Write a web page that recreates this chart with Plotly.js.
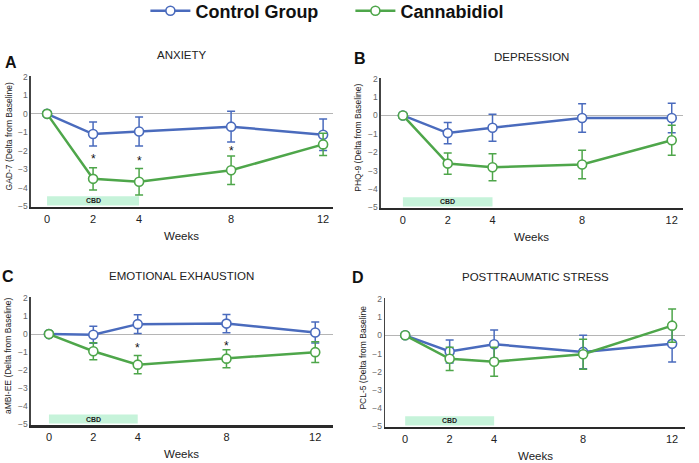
<!DOCTYPE html>
<html>
<head>
<meta charset="utf-8">
<script src="https://cdn.plot.ly/plotly-3.0.1.min.js"></script>
<style>
  html, body { margin: 0; padding: 0; background: #fff; }
  #chart { width: 699px; height: 463px; }
</style>
</head>
<body>
<div id="chart"></div>
<script>
// weeks of follow-up
const weeks = [0, 2, 4, 8, 12];

// A - anxiety (GAD-7)
const anxietyControl = [0, -1.09, -0.95, -0.69, -1.13];
const anxietyControlErr = [0, 0.65, 0.78, 0.83, 0.85];
const anxietyCbd = [0, -3.51, -3.67, -3.05, -1.65];
const anxietyCbdErr = [0, 0.6, 0.72, 0.77, 0.6];
const anxietyStarWeeks = [2, 4, 8];
const anxietyStarY = [-2.27, -2.36, -1.87];

// B - depression (PHQ-9)
const depressionControl = [0, -0.96, -0.67, -0.14, -0.14];
const depressionControlErr = [0, 0.58, 0.74, 0.78, 0.8];
const depressionCbd = [0, -2.62, -2.82, -2.67, -1.35];
const depressionCbdErr = [0, 0.58, 0.73, 0.77, 0.81];

// C - emotional exhaustion (aMBI-EE)
const exhaustionControl = [0, -0.04, 0.55, 0.58, 0.09];
const exhaustionControlErr = [0, 0.47, 0.52, 0.5, 0.58];
const exhaustionCbd = [0, -0.95, -1.69, -1.36, -1.0];
const exhaustionCbdErr = [0, 0.47, 0.5, 0.5, 0.57];
const exhaustionStarWeeks = [4, 8];
const exhaustionStarY = [-0.58, -0.51];

// D - posttraumatic stress (PCL-5)
const ptsdControl = [0, -0.89, -0.49, -0.91, -0.47];
const ptsdControlErr = [0, 0.63, 0.78, 0.92, 1.0];
const ptsdCbd = [0, -1.29, -1.45, -1.04, 0.53];
const ptsdCbdErr = [0, 0.64, 0.8, 0.83, 0.91];

const yTicks = [-5, -4, -3, -2, -1, 0, 1, 2];
const cbdWeeks = [0, 4];
const cbdBand = [-4.95, -4.45];

const colors = {control: '#4a6bbd', cbd: '#4ea64a', cbdBar: '#c6f3da', axis: '#2a2a2a'};

//panel setup
let panels = [
  {letter: 'A', title: 'ANXIETY', ytitle: 'GAD-7 (Delta from Baseline)', control: anxietyControl, controlErr: anxietyControlErr, cbd: anxietyCbd, cbdErr: anxietyCbdErr, starX: anxietyStarWeeks, starY: anxietyStarY,
   xdom: [0.0443, 0.4764], ydom: [0.553, 0.836], xrange: [-0.7, 12.43], letterPos: [0.004, 0.866]},
  {letter: 'B', title: 'DEPRESSION', ytitle: 'PHQ-9 (Delta from Baseline)', control: depressionControl, controlErr: depressionControlErr, cbd: depressionCbd, cbdErr: depressionCbdErr, starX: [], starY: [],
   xdom: [0.545, 0.977], ydom: [0.551, 0.832], xrange: [-0.98, 12.5], letterPos: [0.503, 0.873]},
  {letter: 'C', title: 'EMOTIONAL EXHAUSTION', ytitle: 'aMBI-EE (Delta from Baseline)', control: exhaustionControl, controlErr: exhaustionControlErr, cbd: exhaustionCbd, cbdErr: exhaustionCbdErr, starX: exhaustionStarWeeks, starY: exhaustionStarY,
   xdom: [0.0443, 0.4764], ydom: [0.082, 0.3585], xrange: [-0.81, 12.8], letterPos: [0.0, 0.402]},
  {letter: 'D', title: 'POSTTRAUMATIC STRESS', ytitle: 'PCL-5 (Delta from Baseline', control: ptsdControl, controlErr: ptsdControlErr, cbd: ptsdCbd, cbdErr: ptsdCbdErr, starX: [], starY: [],
   xdom: [0.551, 0.980], ydom: [0.078, 0.3564], xrange: [-0.9, 12.58], letterPos: [0.501, 0.400]}
];

let data = [];
let layout = {
  width: 699,
  height: 463,
  margin: {l: 0, r: 0, t: 0, b: 0, autoexpand: false},
  paper_bgcolor: '#fff',
  plot_bgcolor: 'rgba(0,0,0,0)',
  font: {family: 'Liberation Sans, Arial, sans-serif', color: '#222'},
  showlegend: true,
  legend: {
    orientation: 'h', x: 0.208, xanchor: 'left', y: 1.016, yanchor: 'top',
    font: {size: 18, color: '#111', weight: 'bold'},
    itemwidth: 40, entrywidth: 150
  },
  shapes: [],
  annotations: []
};

function lineTrace(name, y, err, color, xa, ya, show) {
  return {
    x: weeks, y: y, name: name, xaxis: xa, yaxis: ya,
    mode: 'lines+markers', showlegend: show,
    line: {color: color, width: 2.5},
    marker: {symbol: 'circle', size: 9, color: '#fff', line: {color: color, width: 1.6}},
    error_y: {type: 'data', array: err, visible: true, color: color, thickness: 1.5, width: 4}
  };
}

function note(text, x, y, font, extra) {
  return Object.assign({xref: 'paper', yref: 'paper', x: x, y: y, text: text, showarrow: false,
    xanchor: 'center', yanchor: 'middle', font: font}, extra || {});
}

panels.forEach(function (p, i) {
  let n = i === 0 ? '' : String(i + 1);
  let xa = 'x' + n, ya = 'y' + n;

  data.push(lineTrace('Control Group', p.control, p.controlErr, colors.control, xa, ya, i === 0));
  data.push(lineTrace('Cannabidiol', p.cbd, p.cbdErr, colors.cbd, xa, ya, i === 0));

  //significance stars
  p.starX.forEach(function (wk, k) {
    layout.annotations.push({xref: xa, yref: ya, x: wk, y: p.starY[k], text: '*', showarrow: false,
      xanchor: 'center', yanchor: 'middle', yshift: -3, font: {size: 12, color: '#111'}});
  });

  layout['xaxis' + n] = {
    domain: p.xdom, anchor: ya, range: p.xrange,
    tickvals: weeks, ticktext: weeks.map(String),
    showgrid: false, zeroline: false, showline: true,
    linecolor: colors.axis, linewidth: 2.5, ticks: '',
    tickfont: {size: 11, color: '#222'}
  };
  layout['yaxis' + n] = {
    domain: p.ydom, anchor: xa, range: [-5.03, 2.05],
    tickvals: yTicks, showgrid: false,
    zeroline: true, zerolinecolor: '#b5b5b5', zerolinewidth: 1,
    showline: true, linecolor: '#444', linewidth: 1.5, ticks: '',
    tickfont: {size: 8.5, color: '#666'}
  };

  //CBD treatment window
  layout.shapes.push({type: 'rect', xref: xa, yref: ya, x0: cbdWeeks[0], x1: cbdWeeks[1], y0: cbdBand[0], y1: cbdBand[1],
    fillcolor: colors.cbdBar, line: {width: 0}, layer: 'below'});
  layout.annotations.push({xref: xa, yref: ya, x: (cbdWeeks[0] + cbdWeeks[1]) / 2, y: (cbdBand[0] + cbdBand[1]) / 2,
    text: '<b>CBD</b>', showarrow: false, xanchor: 'center', yanchor: 'middle', font: {size: 7, color: '#222'}});

  let xmid = (p.xdom[0] + p.xdom[1]) / 2;
  layout.annotations.push(note(p.title, xmid, p.ydom[1] + 0.045, {size: 11.5, color: '#222'}));
  layout.annotations.push(note('<b>' + p.letter + '</b>', p.letterPos[0], p.letterPos[1], {size: 16, color: '#111'}, {xanchor: 'left'}));
  layout.annotations.push(note(p.ytitle, p.xdom[0] - 0.032, (p.ydom[0] + p.ydom[1]) / 2 + 0.01, {size: 8.5, color: '#222'}, {textangle: -90}));
  layout.annotations.push(note('Weeks', xmid, p.ydom[0] - 0.063, {size: 11.5, color: '#222'}));
});

Plotly.newPlot('chart', data, layout, {staticPlot: true});
</script>
</body>
</html>
